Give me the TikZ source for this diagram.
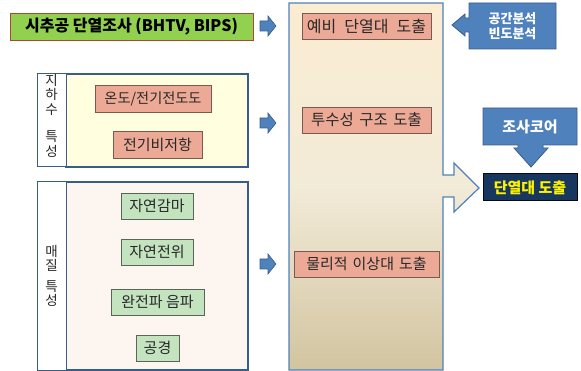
\documentclass[tikz,border=0pt]{standalone}
\usepackage{fontspec}
\setmainfont{Noto Sans CJK KR}
\definecolor{salfill}{RGB}{236,170,150}
\definecolor{salline}{RGB}{120,90,80}
\definecolor{grnfill}{RGB}{196,228,192}
\definecolor{grnline}{RGB}{90,100,90}
\definecolor{headgrn}{RGB}{146,208,80}
\definecolor{headline}{RGB}{170,70,50}
\definecolor{blueA}{RGB}{79,129,189}
\definecolor{blueB}{RGB}{56,93,138}
\definecolor{navy}{RGB}{23,55,94}
\definecolor{colTop}{RGB}{251,236,210}
\definecolor{colMid}{RGB}{242,235,216}
\definecolor{colBot}{RGB}{210,196,160}
\definecolor{grpA}{RGB}{255,255,224}
\definecolor{grpB}{RGB}{253,246,240}
\definecolor{txt}{RGB}{40,40,40}
\tikzset{
  salbox/.style={draw=salline, fill=salfill, line width=0.8pt, inner sep=0pt,
    font=\fontsize{15}{18}\selectfont, text=txt},
  grnbox/.style={draw=grnline, fill=grnfill, line width=0.8pt, inner sep=0pt,
    font=\fontsize{15}{18}\selectfont, text=txt},
  rarrow/.pic={\path[draw=blueB, fill=blueA, line width=0.6pt]
    (-8,-5) -- (0,-5) -- (0,-10) -- (8,0) -- (0,10) -- (0,5) -- (-8,5) -- cycle;
    \coordinate (-tip) at (8,0);},
  grpbox/.style={draw=blueB, line width=1.3pt},
  lblbox/.style={draw=blueB, fill=white, line width=1pt},
  vlabel/.style={align=center, font=\fontsize{13.5}{14.5}\selectfont, text=txt, inner sep=0pt},
  bluetext/.style={text=white, font=\bfseries\fontsize{14}{16}\selectfont, align=center, inner sep=0pt},
}
\begin{document}
\begin{tikzpicture}[x=1pt,y=-1pt]
\useasboundingbox (0,0) rectangle (581,371);

% top survey box
\node[draw=headline, fill=headgrn, line width=0.8pt, minimum width=243pt, minimum height=27pt,
  inner sep=0pt, font=\bfseries\fontsize{16}{18}\selectfont] (survey) at (131.5,26.5) {시추공 단열조사 (BHTV, BIPS)};
\pic (ar1) at (268,26) {rarrow};

% central column with outgoing arrow
\path[draw=blueA, line width=1.2pt, top color=colTop, bottom color=colBot, middle color=colMid]
  (289,3) -- (443,3) -- (443,175) -- (454,175) -- (454,163) -- (479,188) -- (454,212)
  -- (454,197) -- (443,197) -- (443,370) -- (289,370) -- cycle;
\coordinate (colTip) at (479,188);

\node[salbox, minimum width=129pt, minimum height=26pt, font=\fontsize{16}{18}\selectfont] (prelim) at (366.5,26) {예비\hspace{8pt}단열대\hspace{8pt}도출};
\node[salbox, minimum width=129pt, minimum height=26pt, font=\fontsize{15.5}{18}\selectfont] (perm) at (366.5,120) {투수성\hspace{5.5pt}구조\hspace{5.5pt}도출};
\node[salbox, minimum width=145pt, minimum height=26pt] (phys) at (366.5,264) {물리적\hspace{5pt}이상대\hspace{5pt}도출};

% analysis callout (left arrow)
\path[draw=blueB, fill=blueA, line width=0.8pt]
  (469,3) -- (556,3) -- (556,49) -- (469,49) -- (469,32) -- (465,32) -- (465,36)
  -- (452,25) -- (465,14) -- (465,18) -- (469,18) -- cycle;
\node[bluetext, font=\bfseries\fontsize{13}{15.5}\selectfont] (anal) at (512.5,26) {공간분석\\빈도분석};

% core callout (down arrow)
\path[draw=blueB, fill=blueA, line width=0.8pt]
  (483,108) -- (577,108) -- (577,145) -- (543,145) -- (543,148) -- (548,148)
  -- (531,167) -- (514,148) -- (518,148) -- (518,145) -- (483,145) -- cycle;
\node[bluetext, font=\bfseries\fontsize{15}{17}\selectfont] (core) at (530,126.5) {조사코어};

% result
\node[draw=black!80!navy, fill=navy, line width=1pt, minimum width=94pt, minimum height=27pt,
  inner sep=0pt, text=yellow, font=\bfseries\fontsize{15}{17}\selectfont] (result) at (530,187.5) {단열대 도출};

% group 1: groundwater
\node[grpbox, fill=grpA, minimum width=182pt, minimum height=93pt, inner sep=0pt] (gw) at (157,120.5) {};
\node[lblbox, minimum width=29pt, minimum height=93pt, inner sep=0pt] (gwl) at (51.5,120.5) {};
\node[vlabel] (gwt) at (51.5,115.5) {지\\하\\수\\[13pt]특\\성};
\node[salbox, minimum width=116pt, minimum height=27pt, font=\fontsize{14.2}{17}\selectfont] (temp) at (153,98.5) {온도/전기전도도};
\node[salbox, minimum width=89pt, minimum height=27pt] (resist) at (157.5,144.5) {전기비저항};
\pic (ar2) at (268,123) {rarrow};

% group 2: medium
\node[grpbox, fill=grpB, minimum width=182pt, minimum height=188pt, inner sep=0pt] (md) at (157,276) {};
\node[lblbox, minimum width=29pt, minimum height=188pt, inner sep=0pt] (mdl) at (51.5,276) {};
\node[vlabel] (mdt) at (51.5,276) {매\\질\\[6pt]특\\성};
\node[grnbox, minimum width=72pt, minimum height=26pt] (gamma) at (157,206) {자연감마};
\node[grnbox, minimum width=72pt, minimum height=26pt] (sp) at (157,252) {자연전위};
\node[grnbox, minimum width=93pt, minimum height=26pt] (sonic) at (157.5,302) {완전파 음파};
\node[grnbox, minimum width=43pt, minimum height=26pt] (cal) at (157.5,348) {공경};
\pic (ar3) at (268,264) {rarrow};
\end{tikzpicture}
\end{document}
